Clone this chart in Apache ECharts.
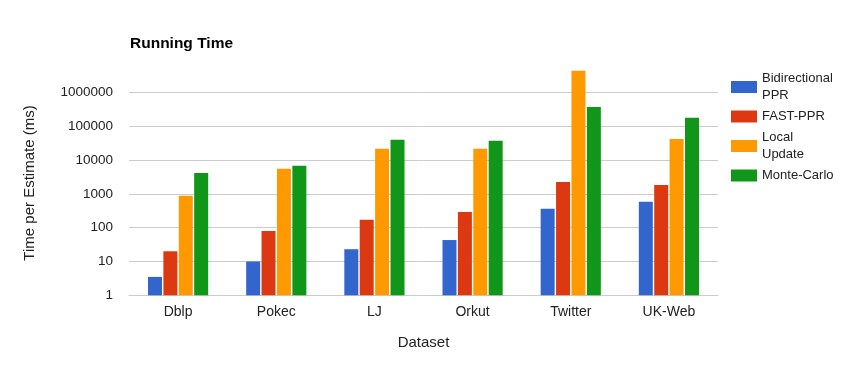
<!DOCTYPE html>
<html>
<head>
<meta charset="utf-8">
<script src="https://cdn.jsdelivr.net/npm/echarts@6/dist/echarts.min.js"></script>
<style>html,body{margin:0;padding:0;background:#fff}#c{width:847px;height:365px}</style>
</head>
<body>
<div id="c"></div>
<script>
var categories = ['Dblp', 'Pokec', 'LJ', 'Orkut', 'Twitter', 'UK-Web'];
var seriesNames = ['Bidirectional PPR', 'FAST-PPR', 'Local Update', 'Monte-Carlo'];
var bidirectional = [3.5, 10, 23, 43, 360, 580];
var fastPPR = [20, 80, 170, 290, 2250, 1830];
var localUpdate = [870, 5500, 21500, 21500, 4300000, 42000];
var monteCarlo = [4150, 6700, 39500, 37000, 370000, 176000];
var yTicks = [1, 10, 100, 1000, 10000, 100000, 1000000];
var colors = ['#3366cc', '#dc3912', '#ff9900', '#109618'];

var chart = echarts.init(document.getElementById('c'));
var FONT = 'Arial, "Liberation Sans", sans-serif';
var values = [bidirectional, fastPPR, localUpdate, monteCarlo];
chart.setOption({
  animation: false,
  textStyle: { fontFamily: FONT },
  title: {
    text: 'Running Time', left: 125, top: 31,
    textStyle: { fontSize: 15.5, fontWeight: 'bold', color: '#000', fontFamily: FONT }
  },
  legend: {
    orient: 'vertical', left: 726, top: 65,
    itemWidth: 26, itemHeight: 12, itemGap: 4,
    icon: 'rect',
    data: seriesNames,
    formatter: function (name) { return name.replace(/ /g, '\n'); },
    textStyle: { fontSize: 13, color: '#222', lineHeight: 17, fontFamily: FONT }
  },
  grid: { left: 129, right: 129, top: 92.3, bottom: 69.7 },
  xAxis: {
    type: 'category', data: categories,
    name: 'Dataset', nameLocation: 'middle', nameGap: 40,
    nameTextStyle: { fontSize: 15, color: '#222', fontFamily: FONT },
    axisLine: { show: true, lineStyle: { color: '#cccccc' } },
    axisTick: { show: false },
    axisLabel: { fontSize: 14, color: '#222', margin: 10, fontFamily: FONT }
  },
  yAxis: {
    type: 'log', logBase: 10, min: yTicks[0], max: yTicks[yTicks.length - 1],
    axisLine: { show: false }, axisTick: { show: false },
    splitLine: { lineStyle: { color: '#cccccc' } },
    axisLabel: { fontSize: 13.5, color: '#222', margin: 16, fontFamily: FONT,
      formatter: function (v) { return String(Math.round(v)); } }
  },
  graphic: [{
    type: 'text', x: 30, y: 183, rotation: Math.PI / 2,
    style: { text: 'Time per Estimate (ms)', fontSize: 15, fill: '#222', align: 'center', verticalAlign: 'middle', font: '15px ' + FONT }
  }],
  series: seriesNames.map(function (n, i) {
    return {
      name: n, type: 'bar', data: values[i], clip: false,
      barWidth: 14, barGap: '10%',
      itemStyle: { color: colors[i] }
    };
  })
});
</script>
</body>
</html>
